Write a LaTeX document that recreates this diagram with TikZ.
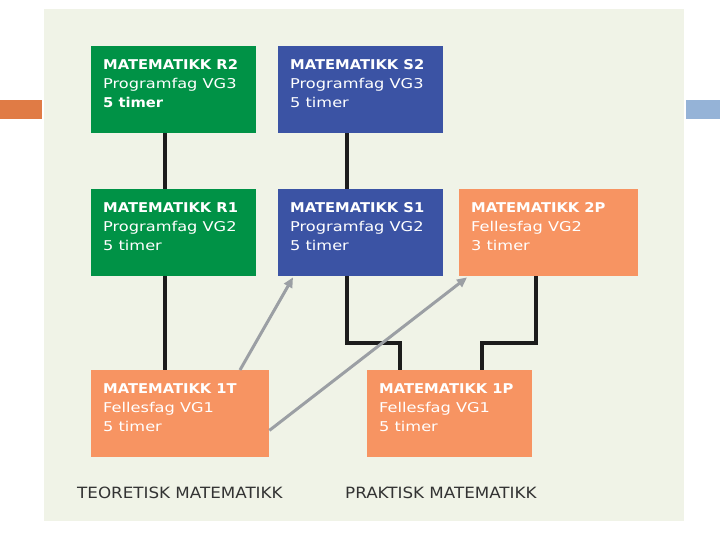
\documentclass[tikz,border=0pt]{standalone}
\usepackage{fontspec}
\setmainfont{DejaVu Sans}[FakeStretch=1.2]
\newfontfamily\fet{DejaVu Sans}[FakeStretch=1.09, UprightFont={* Bold}]
\newfontfamily\merke{DejaVu Sans}[FakeStretch=1.08]
\usetikzlibrary{arrows.meta}
\definecolor{bakgrunn}{RGB}{240,243,231}
\definecolor{gronn}{RGB}{0,146,70}
\definecolor{blaa}{RGB}{59,83,164}
\definecolor{oransje}{RGB}{247,148,98}
\definecolor{venstrefelt}{RGB}{224,123,69}
\definecolor{hoyrefelt}{RGB}{149,179,215}
\definecolor{pil}{RGB}{155,159,164}
\definecolor{strek}{RGB}{28,28,28}
\newcommand{\fag}[4][141pt]{\parbox[c][61pt][t]{#1}{{\fet #2}\\#3\\#4}}
\tikzset{
	fagboks/.style={anchor=north west, inner xsep=12pt, inner ysep=13pt, text=white,
		font=\fontsize{13.5}{19}\selectfont},
	linje/.style={draw=strek, line width=4pt},
	pilen/.style={draw=pil, line width=3pt, -{Triangle[length=10pt,width=9pt]}},
	navn/.style={anchor=base west, inner sep=0pt, text=black!80,
		font=\merke\fontsize{15.5}{18}\selectfont}
}

\begin{document}
\begin{tikzpicture}[x=1pt,y=-1pt]
	\useasboundingbox (0, 0) rectangle (720, 540);
	\fill[bakgrunn] (44, 9) rectangle (684, 521);
	\fill[venstrefelt] (0, 100) rectangle (42, 119);
	\fill[hoyrefelt] (686, 100) rectangle (720, 119);
	\node[fagboks, fill=gronn] (R2) at (91, 46) {\fag{MATEMATIKK R2}{Programfag VG3}{{\fet 5 timer}}};
	\node[fagboks, fill=blaa] (S2) at (278, 46) {\fag{MATEMATIKK S2}{Programfag VG3}{5 timer}};
	\node[fagboks, fill=gronn] (R1) at (91, 189) {\fag{MATEMATIKK R1}{Programfag VG2}{5 timer}};
	\node[fagboks, fill=blaa] (S1) at (278, 189) {\fag{MATEMATIKK S1}{Programfag VG2}{5 timer}};
	\node[fagboks, fill=oransje] (P2) at (459, 189) {\fag[155pt]{MATEMATIKK 2P}{Fellesfag VG2}{3 timer}};
	\node[fagboks, fill=oransje] (T1) at (91, 370) {\fag[154pt]{MATEMATIKK 1T}{Fellesfag VG1}{5 timer}};
	\node[fagboks, fill=oransje] (P1) at (367, 370) {\fag{MATEMATIKK 1P}{Fellesfag VG1}{5 timer}};
	\node[navn] (teo) at (77, 498) {TEORETISK MATEMATIKK};
	\node[navn] (pra) at (345, 498) {PRAKTISK MATEMATIKK};
	\draw[linje] ([xshift=74pt]R2.south west) -- ([xshift=74pt]R1.north west);
	\draw[linje] ([xshift=69pt]S2.south west) -- ([xshift=69pt]S1.north west);
	\draw[linje] ([xshift=74pt]R1.south west) -- ([xshift=74pt]T1.north west);
	\draw[linje] ([xshift=69pt]S1.south west) -- ++(0, 67) -| ([xshift=33pt]P1.north west);
	\draw[linje] ([xshift=77pt]P2.south west) -- ++(0, 67) -| ([xshift=115pt]P1.north west);
	\draw[pilen] ([xshift=149pt]T1.north west) -- ([xshift=15pt,yshift=-1pt]S1.south west);
	\draw[pilen] ([yshift=27pt]T1.south east) -- ([xshift=8pt,yshift=-1pt]P2.south west);
\end{tikzpicture}
\end{document}
